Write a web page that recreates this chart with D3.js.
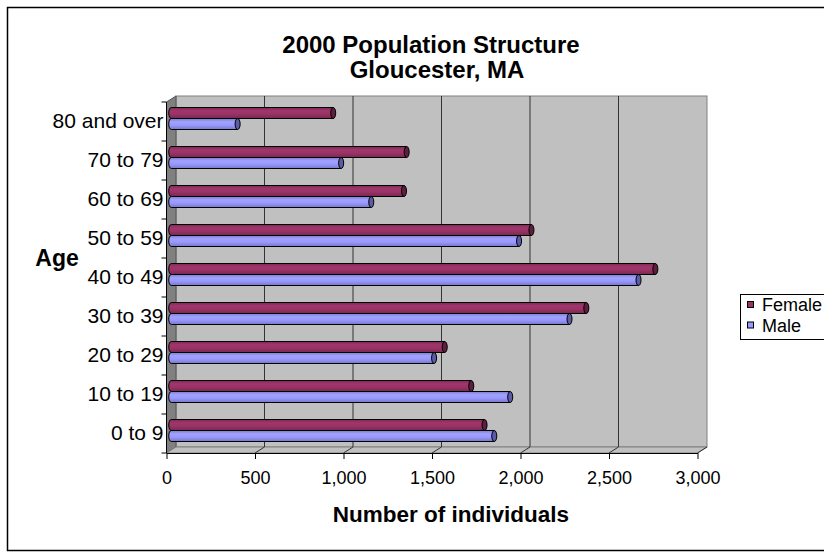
<!DOCTYPE html>
<html>
<head>
<meta charset="utf-8">
<script src="https://cdn.jsdelivr.net/npm/d3@7/dist/d3.min.js"></script>
<style>
  html, body { margin: 0; padding: 0; background: #fff; overflow: hidden; }
  svg { display: block; }
  text { font-family: "Liberation Sans", Arial, sans-serif; fill: #000; }
</style>
</head>
<body>
<svg id="chart" width="824" height="554"></svg>
<script>
// ---- data ----
const categories = ["0 to 9", "10 to 19", "20 to 29", "30 to 39", "40 to 49", "50 to 59", "60 to 69", "70 to 79", "80 and over"];
const female = [1770, 1695, 1545, 2345, 2735, 2035, 1315, 1330, 915];
const male   = [1825, 1915, 1485, 2250, 2640, 1965, 1130, 960, 375];
const seriesNames = ["Female", "Male"];
const xTicks = [0, 500, 1000, 1500, 2000, 2500, 3000];
const titleLines = ["2000 Population Structure", "Gloucester, MA"];
const xTitle = "Number of individuals";
const yTitle = "Age";

// ---- layout ----
const svg = d3.select("#chart");
const DX = 9.5, DY = -6;           // 3D depth offset (front -> back)
const plotTop = 102, plotBottom = 453;

const x = d3.scaleLinear().domain([0, 3000]).range([166.5, 697.5]);
const y = d3.scaleBand().domain(categories.slice().reverse()).range([plotTop, plotBottom]);
const ys = d3.scaleBand().domain(seriesNames).range([8.5, 30.5]);

const colors = { Female: "#993366", Male: "#9999FF" };
const capColors = { Female: "#5e1f3f", Male: "#5b5ba8" };

// outer frame
svg.append("rect").attr("x", 7.5).attr("y", 7.5).attr("width", 840).attr("height", 543)
  .attr("fill", "#fff").attr("stroke", "#000").attr("stroke-width", 1.5);

// gradients for cylinder look
const defs = svg.append("defs");
function grad(id, base) {
  const c = d3.color(base);
  const g = defs.append("linearGradient").attr("id", id)
    .attr("x1", 0).attr("y1", 0).attr("x2", 0).attr("y2", 1);
  g.append("stop").attr("offset", "0%").attr("stop-color", c.darker(0.6));
  g.append("stop").attr("offset", "30%").attr("stop-color", c.brighter(0.15));
  g.append("stop").attr("offset", "60%").attr("stop-color", c);
  g.append("stop").attr("offset", "100%").attr("stop-color", c.darker(0.7));
}
grad("gFemale", colors.Female);
grad("gMale", colors.Male);

const x0 = x(0), x1 = x(3000);

// back wall
svg.append("rect").attr("x", x0 + DX).attr("y", plotTop + DY)
  .attr("width", x1 - x0).attr("height", plotBottom - plotTop)
  .attr("fill", "#C0C0C0").attr("stroke", "#808080").attr("stroke-width", 1);

// side wall
svg.append("path")
  .attr("d", `M${x0},${plotTop} L${x0 + DX},${plotTop + DY} L${x0 + DX},${plotBottom + DY} L${x0},${plotBottom} Z`)
  .attr("fill", "#808080").attr("stroke", "#555").attr("stroke-width", 1);

// floor
svg.append("path")
  .attr("d", `M${x0},${plotBottom} L${x0 + DX},${plotBottom + DY} L${x1 + DX},${plotBottom + DY} L${x1},${plotBottom} Z`)
  .attr("fill", "#C0C0C0").attr("stroke", "#808080").attr("stroke-width", 1);

// gridlines on back wall + floor
const grid = svg.append("g");
xTicks.filter(t => t > 0 && t < 3000).forEach(t => {
  grid.append("line").attr("x1", x(t) + DX).attr("x2", x(t) + DX)
    .attr("y1", plotTop + DY).attr("y2", plotBottom + DY)
    .attr("stroke", "#333").attr("stroke-width", 1);
});
xTicks.filter(t => t > 0).forEach(t => {
  grid.append("line").attr("x1", x(t) + DX).attr("x2", x(t))
    .attr("y1", plotBottom + DY).attr("y2", plotBottom)
    .attr("stroke", "#333").attr("stroke-width", 1);
});

// bars (cylinders at mid depth)
const mdx = DX / 2, mdy = DY / 2;
const rows = [];
categories.forEach((c, i) => {
  rows.push({ cat: c, s: "Female", v: female[i] });
  rows.push({ cat: c, s: "Male", v: male[i] });
});
const bars = svg.append("g");
rows.forEach(d => {
  const top = y(d.cat) + ys(d.s) + mdy;
  const h = ys.bandwidth();
  const xs = x(0) + mdx;
  const xe = x(d.v) + mdx;
  const rx = 2.5, ry = h / 2;
  const g = bars.append("g");
  g.append("path")
    .attr("d", `M${xe},${top} L${xs},${top} A${rx},${ry} 0 0 0 ${xs},${top + h} L${xe},${top + h}`)
    .attr("fill", `url(#g${d.s})`).attr("stroke", "#000").attr("stroke-width", 1);
  g.append("ellipse").attr("cx", xe).attr("cy", top + ry).attr("rx", rx).attr("ry", ry)
    .attr("fill", capColors[d.s]).attr("stroke", "#000").attr("stroke-width", 1);
});

// x axis
const xAxis = svg.append("g").attr("transform", `translate(0,${plotBottom})`)
  .call(d3.axisBottom(x).tickValues(xTicks).tickFormat(d3.format(",")).tickSize(6).tickSizeOuter(0).tickPadding(12));
xAxis.selectAll("text").style("font-size", "18px").style("font-family", "Liberation Sans, Arial, sans-serif").attr("fill", "#000");
xAxis.select(".domain").attr("stroke", "#000");
xAxis.selectAll(".tick line").attr("stroke", "#000");

// y axis (labels only), plus ticks at band boundaries
const yAxis = svg.append("g").attr("transform", `translate(${x0},0)`)
  .call(d3.axisLeft(y).tickSize(0).tickPadding(3));
yAxis.select(".domain").remove();
yAxis.selectAll("text").style("font-size", "21px").style("font-family", "Liberation Sans, Arial, sans-serif").attr("fill", "#000");
svg.append("line").attr("x1", x0).attr("x2", x0).attr("y1", plotTop).attr("y2", plotBottom)
  .attr("stroke", "#000").attr("stroke-width", 1);
d3.range(categories.length + 1).forEach(i => {
  const yy = plotTop + i * y.step();
  svg.append("line").attr("x1", x0 - 5).attr("x2", x0).attr("y1", yy).attr("y2", yy)
    .attr("stroke", "#000").attr("stroke-width", 1);
});

// titles
svg.append("text").attr("x", 431).attr("y", 53).attr("text-anchor", "middle")
  .style("font-size", "24px").style("font-weight", "bold").text(titleLines[0]);
svg.append("text").attr("x", 437).attr("y", 78).attr("text-anchor", "middle")
  .style("font-size", "24px").style("font-weight", "bold").text(titleLines[1]);
svg.append("text").attr("x", 451).attr("y", 522).attr("text-anchor", "middle")
  .style("font-size", "22.5px").style("font-weight", "bold").text(xTitle);
svg.append("text").attr("x", 57).attr("y", 266).attr("text-anchor", "middle")
  .style("font-size", "23px").style("font-weight", "bold").text(yTitle);

// legend
const lg = svg.append("g");
lg.append("rect").attr("x", 740.5).attr("y", 294.5).attr("width", 100).attr("height", 45)
  .attr("fill", "#fff").attr("stroke", "#000").attr("stroke-width", 1);
seriesNames.forEach((s, i) => {
  const yy = 301 + i * 20.5;
  lg.append("rect").attr("x", 747.5).attr("y", yy + 0.5).attr("width", 6).attr("height", 6)
    .attr("fill", colors[s]).attr("stroke", "#000").attr("stroke-width", 1);
  lg.append("text").attr("x", 762).attr("y", yy + 4).attr("dy", "0.35em")
    .style("font-size", "18px").text(s);
});
</script>
</body>
</html>
